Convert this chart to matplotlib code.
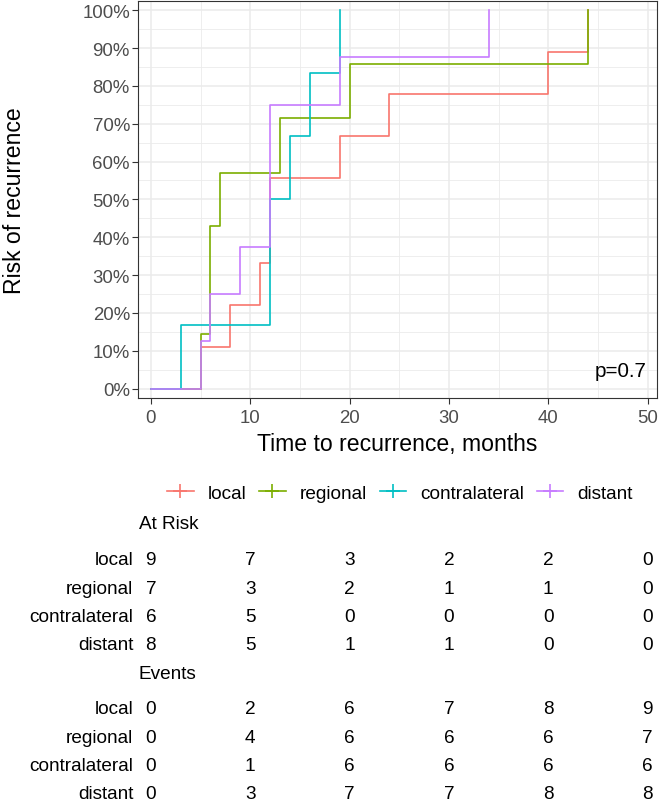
import matplotlib
matplotlib.use('Agg')
import matplotlib.pyplot as plt
from matplotlib.lines import Line2D
from matplotlib.transforms import blended_transform_factory
from matplotlib.ticker import MultipleLocator, PercentFormatter

plt.rcParams['font.family'] = ['Liberation Sans', 'DejaVu Sans']

# data
groups = ['local', 'regional', 'contralateral', 'distant']
colors = ['#F8766D', '#7CAE00', '#00BFC4', '#C77CFF']

local_t = [0, 5, 8, 11, 12, 19, 24, 40, 44]
local_r = [0, 11.1, 22.2, 33.3, 55.6, 66.7, 77.8, 88.9, 100]
regional_t = [0, 5, 6, 7, 13, 20, 44]
regional_r = [0, 14.3, 42.9, 57.1, 71.4, 85.7, 100]
contra_t = [0, 3, 12, 14, 16, 19]
contra_r = [0, 16.7, 50.0, 66.7, 83.3, 100]
distant_t = [0, 5, 6, 9, 12, 19, 34]
distant_r = [0, 12.5, 25.0, 37.5, 75.0, 87.5, 100]

table_times = [0, 10, 20, 30, 40, 50]
at_risk = {
    'local': [9, 7, 3, 2, 2, 0],
    'regional': [7, 3, 2, 1, 1, 0],
    'contralateral': [6, 5, 0, 0, 0, 0],
    'distant': [8, 5, 1, 1, 0, 0],
}
events = {
    'local': [0, 2, 6, 7, 8, 9],
    'regional': [0, 4, 6, 6, 6, 7],
    'contralateral': [0, 1, 6, 6, 6, 6],
    'distant': [0, 3, 7, 7, 8, 8],
}
p_text = 'p=0.7'

curves = [(local_t, local_r), (regional_t, regional_r),
          (contra_t, contra_r), (distant_t, distant_r)]

W, H = 662, 803
fig = plt.figure(figsize=(W / 100, H / 100), dpi=100)

def fx(px):
    return px / W

def fy(py):
    return 1 - py / H

ax = fig.add_axes([fx(138.3), fy(398.7), fx(657) - fx(138.3), fy(1.7) - fy(398.7)])

for (t, r), c, g in zip(curves, colors, groups):
    ax.step(t, [v / 100 for v in r], where='post', color=c, lw=1.2, label=g)

ax.set_xlim(-1.26, 50.94)
ax.set_ylim(-0.024, 1.025)
ax.xaxis.set_major_locator(MultipleLocator(10))
ax.xaxis.set_minor_locator(MultipleLocator(5))
ax.yaxis.set_major_locator(MultipleLocator(0.1))
ax.yaxis.set_minor_locator(MultipleLocator(0.05))
ax.yaxis.set_major_formatter(PercentFormatter(1.0, decimals=0))
ax.grid(which='major', color='#EBEBEB', lw=1.1)
ax.grid(which='minor', color='#EBEBEB', lw=0.6)
ax.set_axisbelow(True)
for s in ax.spines.values():
    s.set_color('#333333')
    s.set_linewidth(0.8)
ax.tick_params(which='major', length=4, width=0.8, color='#333333',
               labelcolor='#4D4D4D', labelsize=13.4, pad=2)
ax.tick_params(axis='x', which='major', pad=4)
ax.tick_params(which='minor', length=0)

ax.set_xlabel('Time to recurrence, months', fontsize=16.6)
ax.set_ylabel('Risk of recurrence', fontsize=16.6)
ax.xaxis.set_label_coords(0.5, -(445 - 398.7) / (398.7 - 1.7), transform=ax.transAxes)
ax.xaxis.label.set_va('center')
ax.yaxis.set_label_coords(-(138.3 - 15) / (657 - 138.3), 0.5, transform=ax.transAxes)
ax.yaxis.label.set_va('center')

ax.text(fx(646.7), fy(371.7), p_text, transform=fig.transFigure,
        ha='right', va='center', fontsize=14.9)

# legend
handles = [Line2D([], [], color=c, lw=1.2, marker='+', markersize=10, markeredgewidth=1.2)
           for c in colors]
fig.legend(handles, groups, ncol=4, loc='center', bbox_to_anchor=(fx(400), fy(494)),
           frameon=False, fontsize=13.7, handlelength=1.4, handletextpad=0.75,
           columnspacing=0.65, borderpad=0, borderaxespad=0)

# risk tables
tr = blended_transform_factory(ax.transData, fig.transFigure)
tsize = 13.7

def draw_table(title, title_y, rows_y, data):
    fig.text(fx(139), fy(title_y), title, ha='left', va='center', fontsize=tsize)
    for g, y in zip(groups, rows_y):
        fig.text(fx(133.3), fy(y), g, ha='right', va='center', fontsize=tsize)
        for t, v in zip(table_times, data[g]):
            ax.text(t, fy(y), str(v), transform=tr, ha='center', va='center',
                    fontsize=tsize, clip_on=False)

draw_table('At Risk', 525, [560.7, 589, 617.3, 645.7], at_risk)
draw_table('Events', 675, [710, 738.3, 766.7, 795], events)

fig.savefig('out.png', dpi=100)
